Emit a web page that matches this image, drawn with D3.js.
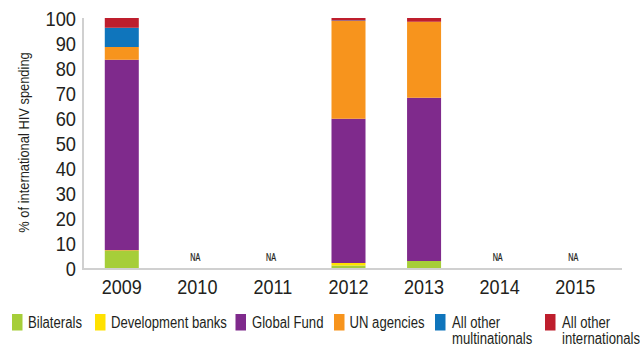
<!DOCTYPE html>
<html>
<head>
<meta charset="utf-8">
<script src="https://cdn.jsdelivr.net/npm/d3@7/dist/d3.min.js"></script>
<style>
  html, body { margin: 0; padding: 0; background: #fff; }
  svg text { font-family: "Liberation Sans", Arial, sans-serif; fill: #231f20; }
</style>
</head>
<body>
<svg id="chart" width="640" height="347"></svg>
<script>
// Share of international HIV spending by source, per year
const years = ["2009", "2010", "2011", "2012", "2013", "2014", "2015"];
const sources = ["Bilaterals", "Development banks", "Global Fund", "UN agencies", "All other multinationals", "All other internationals"];
const legendLabels = [["Bilaterals"], ["Development banks"], ["Global Fund"], ["UN agencies"], ["All other", "multinationals"], ["All other", "internationals"]];
const colors = ["#a6ce39", "#ffe100", "#7f2a8c", "#f7941d", "#0f75bc", "#be1e2d"];

// values per year, in the order of `sources`; null = not available
const bilaterals       = [6.8, null, null, 1.0, 2.8, null, null];
const developmentBanks = [0.3, null, null, 1.0, 0.0, null, null];
const globalFund       = [76.2, null, null, 57.7, 65.3, null, null];
const unAgencies       = [5.1, null, null, 39.1, 30.4, null, null];
const otherMulti       = [7.7, null, null, 0.2, 0.0, null, null];
const otherIntl        = [3.9, null, null, 1.0, 1.5, null, null];
const yTicks = [0, 10, 20, 30, 40, 50, 60, 70, 80, 90, 100];

const seriesValues = [bilaterals, developmentBanks, globalFund, unAgencies, otherMulti, otherIntl];
const rows = years.map((y, i) => {
  const r = { year: y, na: bilaterals[i] === null };
  sources.forEach((s, k) => { r[s] = seriesValues[k][i] || 0; });
  return r;
});

const svg = d3.select("#chart");
const x = d3.scaleBand().domain(years).range([84, 613]).paddingInner(0.55).paddingOuter(0.275);
const y = d3.scaleLinear().domain([0, 100]).range([268, 18]);

// condensed lettering: horizontal squeeze of a regular sans
const narrow = (px, py, s, rot) => `translate(${px},${py})${rot ? ` rotate(${rot})` : ""} scale(${s},1)`;

const stacked = d3.stack().keys(sources)(rows);

// bars
svg.append("g").selectAll("g").data(stacked).join("g")
  .attr("fill", (d, i) => colors[i])
  .selectAll("rect").data(d => d.filter(p => !p.data.na)).join("rect")
  .attr("x", d => x(d.data.year))
  .attr("width", x.bandwidth())
  .attr("y", d => y(d[1]))
  .attr("height", d => y(d[0]) - y(d[1]));

// axis lines
svg.append("line").attr("x1", 83).attr("x2", 83).attr("y1", 18).attr("y2", 269)
  .attr("stroke", "#d0d0d0").attr("stroke-width", 2);
svg.append("line").attr("x1", 82).attr("x2", 622).attr("y1", y(0) + 1).attr("y2", y(0) + 1)
  .attr("stroke", "#d0d0d0").attr("stroke-width", 2);

// y tick labels
svg.append("g").selectAll("text").data(yTicks).join("text")
  .attr("transform", d => narrow(76, y(d), 0.87))
  .attr("dy", "0.36em")
  .attr("text-anchor", "end").attr("font-size", 21)
  .text(d => d);

// x labels
svg.append("g").selectAll("text").data(years).join("text")
  .attr("transform", d => narrow(x(d) + x.bandwidth() / 2, 294.3, 0.86))
  .attr("text-anchor", "middle").attr("font-size", 21)
  .text(d => d);

// NA markers
svg.append("g").selectAll("text").data(rows.filter(r => r.na)).join("text")
  .attr("transform", d => narrow(x(d.year) + x.bandwidth() / 2 - 2, 261.3, 0.72))
  .attr("text-anchor", "middle").attr("font-size", 10)
  .attr("stroke", "#231f20").attr("stroke-width", 0.25)
  .text("NA");

// y axis title
svg.append("text")
  .attr("transform", narrow(29, 142.5, 0.86, -90))
  .attr("text-anchor", "middle").attr("font-size", 15)
  .text("% of international HIV spending");

// legend
const squareX = [12, 95, 235.5, 334, 435, 545];
const textX = [28, 111, 252, 349.5, 452, 562];
const lg = svg.append("g").selectAll("g").data(sources).join("g");
lg.append("rect")
  .attr("x", (d, i) => squareX[i]).attr("y", 314)
  .attr("width", 10.5).attr("height", 16.5)
  .attr("fill", (d, i) => colors[i]);
lg.each(function (d, i) {
  const t = d3.select(this).append("text")
    .attr("transform", narrow(textX[i], 328.3, 0.82))
    .attr("font-size", 16);
  legendLabels[i].forEach((line, j) => {
    t.append("tspan").attr("x", 0).attr("y", j * 16).text(line);
  });
});
</script>
</body>
</html>
